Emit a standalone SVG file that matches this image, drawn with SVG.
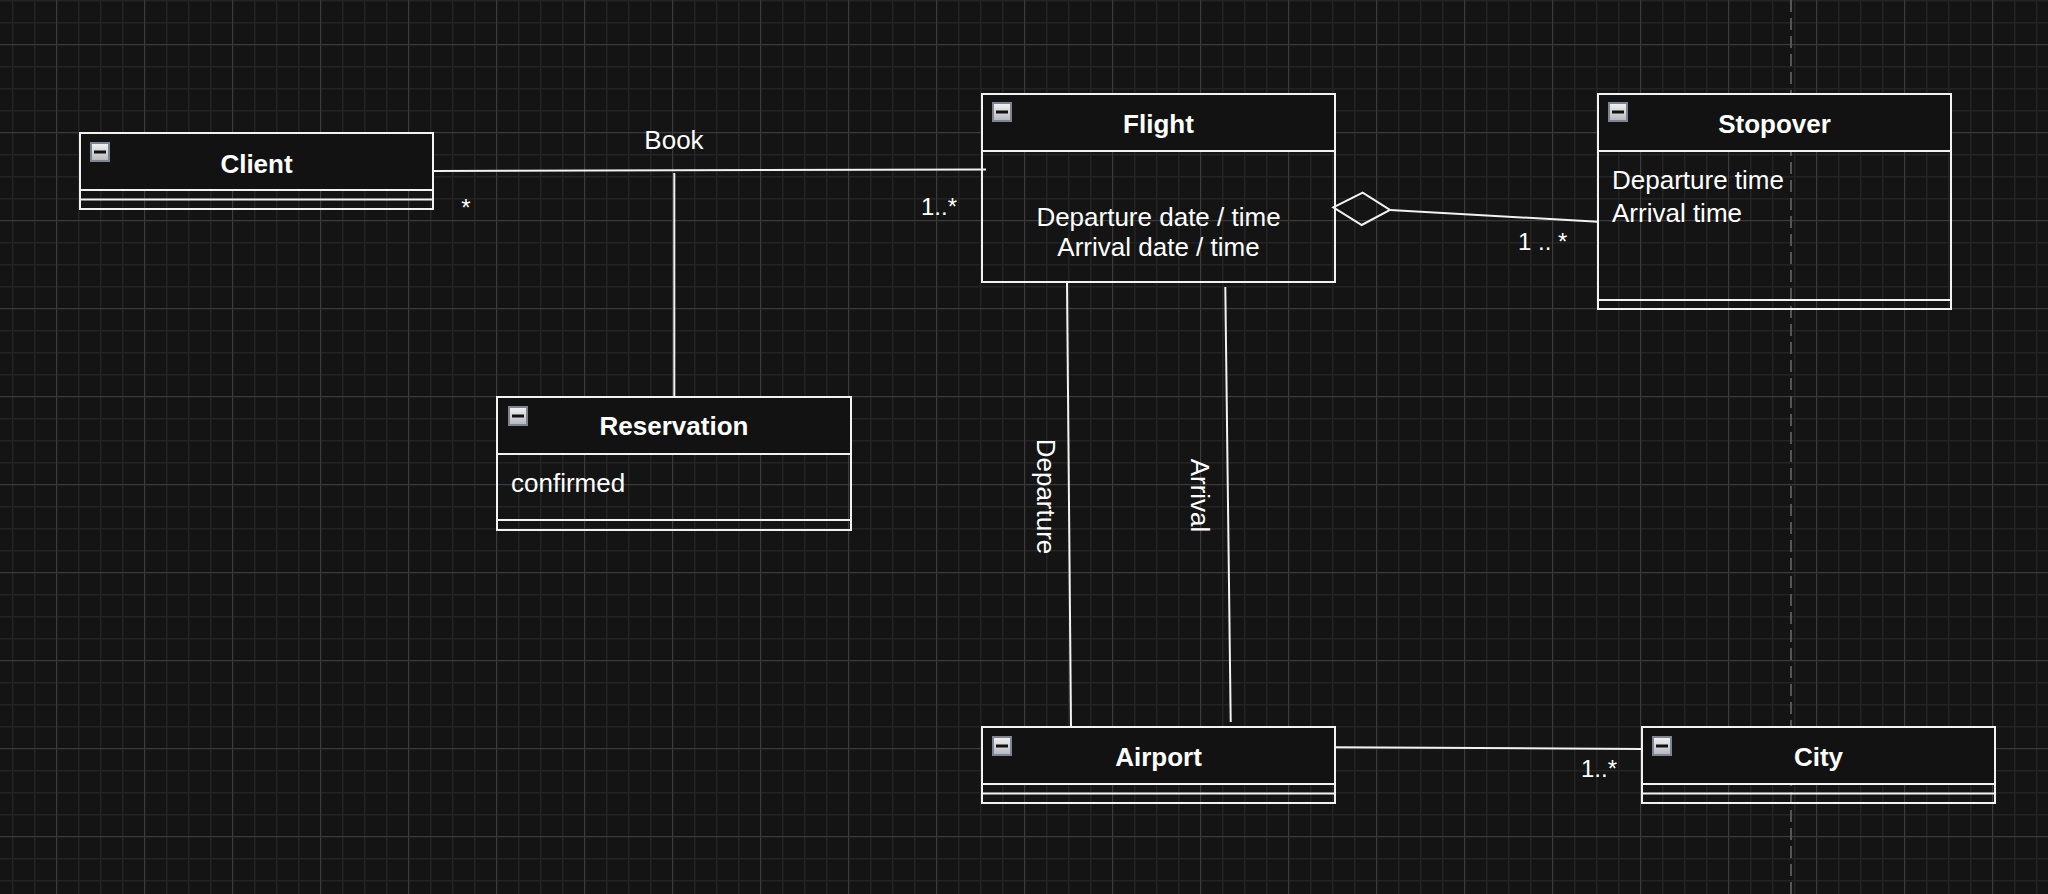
<svg xmlns="http://www.w3.org/2000/svg" width="2048" height="894" viewBox="0 0 2048 894">
  <style>
    .box { fill: none; stroke: #f2f2f2; stroke-width: 2; }
    .hdr { fill: #121212; stroke: #f2f2f2; stroke-width: 2; }
    .sep { stroke: #f2f2f2; stroke-width: 2; }
    .title { font-family: "Liberation Sans", Arial, sans-serif; font-size: 26px; font-weight: bold; fill: #ffffff; text-anchor: middle; }
    .attr { font-family: "Liberation Sans", Arial, sans-serif; font-size: 26px; fill: #ffffff; }
    .lbl { font-family: "Liberation Sans", Arial, sans-serif; font-size: 26px; fill: #ffffff; }
    .mult { font-family: "Liberation Sans", Arial, sans-serif; font-size: 24px; fill: #ffffff; }
    .edge { fill: none; stroke: #f2f2f2; stroke-width: 2; }
  </style>
  <defs>
    <pattern id="minor" x="12" y="0" width="22" height="22" patternUnits="userSpaceOnUse">
      <path d="M0.5 0 V22 M0 0.5 H22" stroke="#232323" stroke-width="2" fill="none"/>
    </pattern>
    <pattern id="major" x="56" y="44" width="88" height="88" patternUnits="userSpaceOnUse">
      <path d="M0.5 0 V88 M0 0.5 H88" stroke="#3b3b3b" stroke-width="1" fill="none"/>
    </pattern>
    <linearGradient id="iconGrad" x1="0" y1="0" x2="0" y2="1">
      <stop offset="0" stop-color="#f4f4f4"/>
      <stop offset="1" stop-color="#b4b6ba"/>
    </linearGradient>
    <symbol id="collapse" viewBox="0 0 20 20" width="20" height="20">
      <rect x="1" y="1" width="18" height="18" fill="url(#iconGrad)" stroke="#7d8595" stroke-width="2"/>
      <rect x="4" y="8.5" width="12" height="3" fill="#111111"/>
    </symbol>
  </defs>

  <!-- background -->
  <rect x="0" y="0" width="2048" height="894" fill="#141414"/>
  <rect x="0" y="0" width="2048" height="894" fill="url(#minor)"/>
  <rect x="0" y="0" width="2048" height="894" fill="url(#major)"/>
  <line x1="1791" y1="0" x2="1791" y2="894" stroke="#555555" stroke-width="2" stroke-dasharray="12 6"/>

  <!-- connectors -->
  <g id="connectors">
    <g id="edge-book">
      <path class="edge" d="M433 171 L986 169.5"/>
      <text class="lbl" x="674" y="149" text-anchor="middle">Book</text>
      <text class="mult" x="466" y="216" text-anchor="middle">*</text>
      <text class="mult" x="921" y="215">1..*</text>
    </g>
    <g id="edge-assoc-class">
      <path class="edge" d="M674.3 173 L674.3 397"/>
    </g>
    <g id="edge-stopover">
      <path class="edge" d="M1333.3 207.3 L1362.7 192.7 L1390 210 L1361.7 225 Z"/>
      <path class="edge" d="M1390 210 L1598 221.7"/>
      <text class="mult" x="1518" y="250">1 .. *</text>
    </g>
    <g id="edge-departure">
      <path class="edge" d="M1067 282 L1071 727"/>
      <text class="lbl" text-anchor="middle" transform="translate(1037 496.5) rotate(90)">Departure</text>
    </g>
    <g id="edge-arrival">
      <path class="edge" d="M1225.3 287 L1230.7 722"/>
      <text class="lbl" text-anchor="middle" transform="translate(1191 495.5) rotate(90)">Arrival</text>
    </g>
    <g id="edge-city">
      <path class="edge" d="M1335 747.3 L1642 749"/>
      <text class="mult" x="1581" y="777">1..*</text>
    </g>
  </g>

  <!-- nodes -->
  <g id="node-client">
    <rect class="hdr" x="80" y="133" width="353" height="57"/>
    <rect class="box" x="80" y="133" width="353" height="76"/>
    <line class="sep" x1="80" y1="199.5" x2="433" y2="199.5"/>
    <use href="#collapse" x="90" y="142"/>
    <text class="title" x="256.5" y="173">Client</text>
  </g>

  <g id="node-reservation">
    <rect class="hdr" x="497" y="397" width="354" height="57"/>
    <rect class="box" x="497" y="397" width="354" height="133"/>
    <line class="sep" x1="497" y1="520" x2="851" y2="520"/>
    <use href="#collapse" x="508" y="406"/>
    <text class="title" x="674" y="435">Reservation</text>
    <text class="attr" x="511" y="492">confirmed</text>
  </g>

  <g id="node-flight">
    <rect class="hdr" x="982" y="94" width="353" height="57"/>
    <rect class="box" x="982" y="94" width="353" height="188"/>
    <use href="#collapse" x="992" y="102"/>
    <text class="title" x="1158.5" y="133">Flight</text>
    <text class="attr" x="1158.5" y="226" text-anchor="middle">Departure date / time</text>
    <text class="attr" x="1158.5" y="256" text-anchor="middle">Arrival date / time</text>
  </g>

  <g id="node-stopover">
    <rect class="hdr" x="1598" y="94" width="353" height="57"/>
    <rect class="box" x="1598" y="94" width="353" height="215"/>
    <line class="sep" x1="1598" y1="300" x2="1951" y2="300"/>
    <use href="#collapse" x="1608" y="102"/>
    <text class="title" x="1774.5" y="133">Stopover</text>
    <text class="attr" x="1612" y="189">Departure time</text>
    <text class="attr" x="1612" y="221.5">Arrival time</text>
  </g>

  <g id="node-airport">
    <rect class="hdr" x="982" y="727" width="353" height="57"/>
    <rect class="box" x="982" y="727" width="353" height="76"/>
    <line class="sep" x1="982" y1="793.5" x2="1335" y2="793.5"/>
    <use href="#collapse" x="992" y="736"/>
    <text class="title" x="1158.5" y="766">Airport</text>
  </g>

  <g id="node-city">
    <rect class="hdr" x="1642" y="727" width="353" height="57"/>
    <rect class="box" x="1642" y="727" width="353" height="76"/>
    <line class="sep" x1="1642" y1="793.5" x2="1995" y2="793.5"/>
    <use href="#collapse" x="1652" y="736"/>
    <text class="title" x="1818.5" y="766">City</text>
  </g>
</svg>
